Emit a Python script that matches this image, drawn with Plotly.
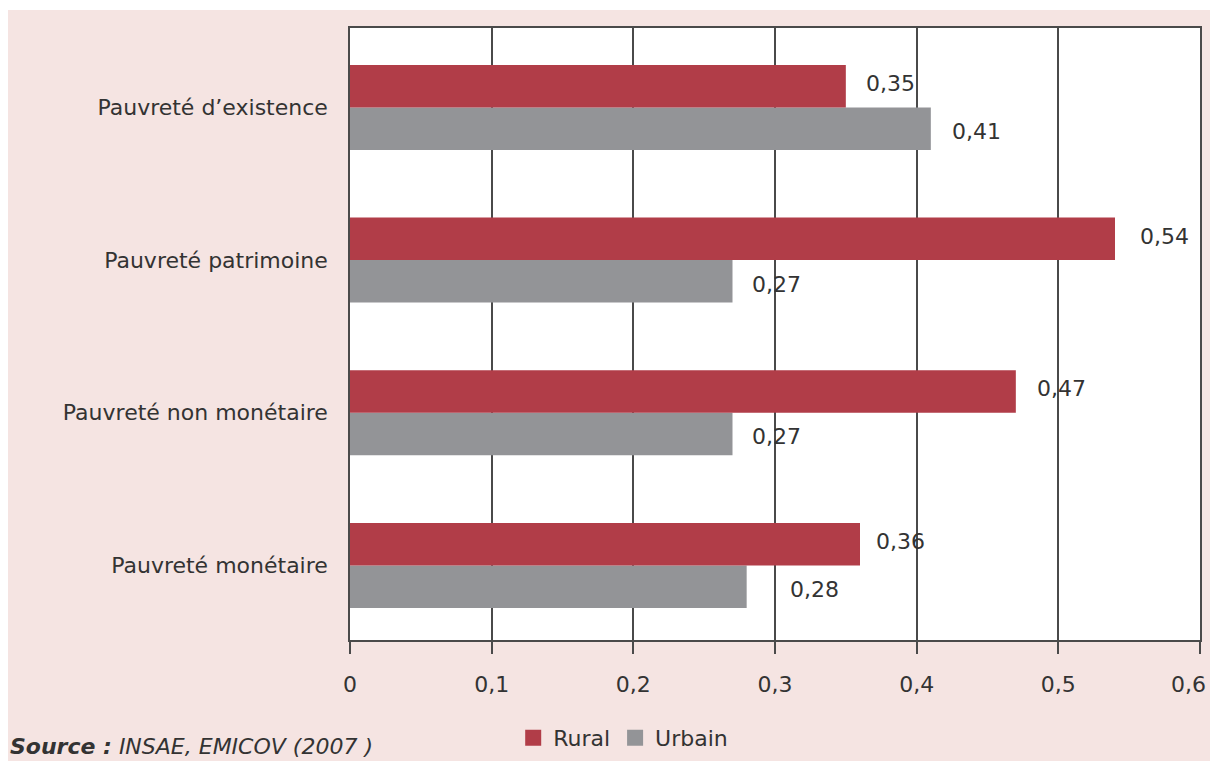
import plotly.graph_objects as go

# Poverty indicators by area of residence
categories = [
    "Pauvreté monétaire",
    "Pauvreté non monétaire",
    "Pauvreté patrimoine",
    "Pauvreté d’existence",
]
rural = [0.36, 0.47, 0.54, 0.35]
urbain = [0.28, 0.27, 0.27, 0.41]
x_ticks = [0, 0.1, 0.2, 0.3, 0.4, 0.5, 0.6]

RED = "#b13d48"
GREY = "#939497"
PINK = "#f5e4e2"
INK = "#333333"
FONT = "'DejaVu Sans', sans-serif"
FS = 22


def fr(v, nd):
    """Format a number with a decimal comma."""
    return "0" if v == 0 else f"{v:.{nd}f}".replace(".", ",")


fig = go.Figure()
fig.add_trace(go.Bar(y=categories, x=urbain, orientation="h", name="Urbain",
                     showlegend=False, marker=dict(color=GREY, line=dict(width=0))))
fig.add_trace(go.Bar(y=categories, x=rural, orientation="h", name="Rural",
                     showlegend=False, marker=dict(color=RED, line=dict(width=0))))

# legend entries drawn as square swatches
for name, col in (("Rural", RED), ("Urbain", GREY)):
    fig.add_trace(go.Scatter(x=[None], y=[None], mode="markers", name=name,
                             marker=dict(symbol="square", size=17, color=col)))

# value labels placed just past the end of each bar
rural_shift = [14, 19, 23, 18]
urbain_shift = [41, 17, 17, 19]
for cat, v, dx in zip(categories, rural, rural_shift):
    fig.add_annotation(x=v, y=cat, text=fr(v, 2),
                       showarrow=False, xanchor="left", yanchor="middle",
                       xshift=dx, yshift=24, font=dict(size=FS, color=INK, family=FONT))
for cat, v, dx in zip(categories, urbain, urbain_shift):
    fig.add_annotation(x=v, y=cat, text=fr(v, 2),
                       showarrow=False, xanchor="left", yanchor="middle",
                       xshift=dx, yshift=-24, font=dict(size=FS, color=INK, family=FONT))

# the last x tick label sits pulled in from the right edge
last = x_ticks[-1]
fig.add_annotation(x=last, xref="x", y=0, yref="paper", text=fr(last, 1),
                   showarrow=False, xanchor="right", yanchor="middle",
                   xshift=8, yshift=-44, font=dict(size=FS, color=INK, family=FONT))

# source line
fig.add_annotation(xref="paper", yref="paper", x=-0.402, y=-0.174,
                   xanchor="left", yanchor="middle", showarrow=False,
                   text="<b><i>Source :</i></b><i> INSAE, EMICOV (2007 )</i>",
                   font=dict(size=FS, color=INK, family=FONT))

# white strips framing the coloured panel
W, H, L, R, T, B = 1210, 761, 350, 10, 28, 121
pw, ph = W - L - R, H - T - B


def px_x(p):
    return (p - L) / pw


def px_y(p):
    return (H - B - p) / ph


fig.add_shape(type="rect", xref="paper", yref="paper", x0=px_x(0), x1=px_x(W),
              y0=px_y(10), y1=px_y(0), fillcolor="white", line=dict(width=0), layer="below")
fig.add_shape(type="rect", xref="paper", yref="paper", x0=px_x(0), x1=px_x(8),
              y0=px_y(H), y1=px_y(0), fillcolor="white", line=dict(width=0), layer="below")

fig.update_layout(
    width=W, height=H,
    margin=dict(l=L, r=R, t=T, b=B, pad=0, autoexpand=False),
    paper_bgcolor=PINK, plot_bgcolor="white",
    barmode="group", bargap=0.443, bargroupgap=0,
    separators=", ",
    font=dict(family=FONT, size=FS, color=INK),
    showlegend=True,
    legend=dict(orientation="h", x=0.192, y=-0.16,
                xanchor="left", yanchor="middle", bgcolor="rgba(0,0,0,0)",
                font=dict(size=FS, color=INK, family=FONT), itemwidth=30),
)
fig.update_xaxes(range=[0, 0.6], tickvals=x_ticks,
                 ticktext=[fr(t, 1) if t != last else "" for t in x_ticks],
                 tickmode="array", automargin=False,
                 showgrid=True, gridcolor="#4a4a4a", gridwidth=1.5,
                 showline=True, linecolor="#4a4a4a", linewidth=1.5, mirror=True,
                 ticks="outside", ticklen=12, tickcolor="#4a4a4a", tickwidth=1.5,
                 ticklabelstandoff=12, zeroline=False, fixedrange=True)
fig.update_yaxes(categoryorder="array", categoryarray=categories,
                 range=[-0.488, 3.52], showgrid=False, automargin=False,
                 showline=True, linecolor="#4a4a4a", linewidth=1.5, mirror=True,
                 ticks="", ticklabelstandoff=16, fixedrange=True)

fig.write_html("out.html")
